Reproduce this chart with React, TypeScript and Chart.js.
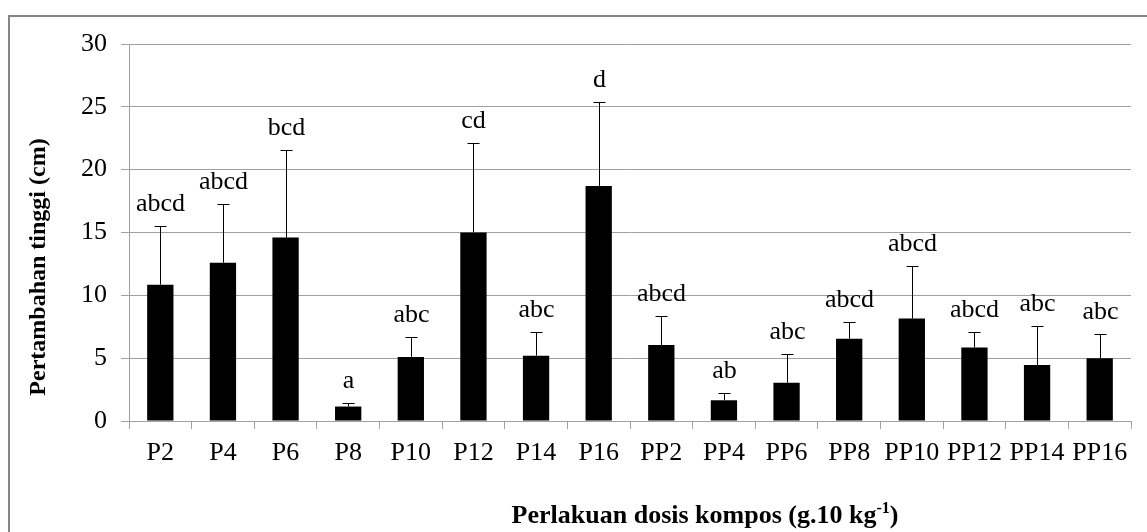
import React, { useEffect, useRef } from "react";
import { Chart, registerables } from "chart.js";

Chart.register(...registerables);

const categories = ["P2", "P4", "P6", "P8", "P10", "P12", "P14", "P16", "PP2", "PP4", "PP6", "PP8", "PP10", "PP12", "PP14", "PP16"];
const means = [10.85, 12.6, 14.6, 1.15, 5.1, 15.0, 5.2, 18.7, 6.05, 1.65, 3.05, 6.55, 8.15, 5.85, 4.45, 5.0];
const stdDev = [4.65, 4.65, 7.0, 0.3, 1.6, 7.15, 1.85, 6.7, 2.3, 0.6, 2.25, 1.3, 4.2, 1.2, 3.1, 1.95];
const letters = ["abcd", "abcd", "bcd", "a", "abc", "cd", "abc", "d", "abcd", "ab", "abc", "abcd", "abcd", "abcd", "abc", "abc"];
const yMin = 0;
const yMax = 30;
const yStep = 5;
const yTitle = "Pertambahan tinggi (cm)";
const xTitleMain = "Perlakuan dosis kompos (g.10 kg";
const xTitleSup = "-1";
const xTitleEnd = ")";

const SERIF = "'Liberation Serif', 'Times New Roman', serif";

const overlayPlugin = {
  id: "overlay",
  afterDatasetsDraw(chart: any) {
    const ctx = chart.ctx;
    const xs = chart.scales.x;
    const ys = chart.scales.y;
    ctx.save();
    ctx.strokeStyle = "#000";
    ctx.lineWidth = 1;
    ctx.fillStyle = "#000";
    ctx.font = `26px ${SERIF}`;
    ctx.textAlign = "center";
    ctx.textBaseline = "alphabetic";
    for (let i = 0; i < means.length; i++) {
      const x = Math.round(xs.getPixelForValue(i)) + 0.5;
      const yTop = ys.getPixelForValue(means[i]);
      const yErr = Math.round(ys.getPixelForValue(means[i] + stdDev[i])) + 0.5;
      ctx.beginPath();
      ctx.moveTo(x, yTop);
      ctx.lineTo(x, yErr);
      ctx.moveTo(x - 6, yErr);
      ctx.lineTo(x + 6, yErr);
      ctx.stroke();
      ctx.fillText(letters[i], x, yErr - 16);
    }
    ctx.restore();
  },
  afterDraw(chart: any) {
    const ctx = chart.ctx;
    ctx.save();
    // outer border
    ctx.strokeStyle = "#868686";
    ctx.lineWidth = 2;
    ctx.strokeRect(9, 16, 1200, 600);
    // y title
    ctx.fillStyle = "#000";
    ctx.font = `bold 24px ${SERIF}`;
    ctx.textAlign = "center";
    ctx.textBaseline = "middle";
    ctx.translate(39, 267);
    ctx.rotate(-Math.PI / 2);
    ctx.fillText(yTitle, 0, 0);
    ctx.setTransform(1, 0, 0, 1, 0, 0);
    // x title
    const mainFont = `bold 26px ${SERIF}`;
    const supFont = `bold 16px ${SERIF}`;
    ctx.font = mainFont;
    const w1 = ctx.measureText(xTitleMain).width;
    const w3 = ctx.measureText(xTitleEnd).width;
    ctx.font = supFont;
    const w2 = ctx.measureText(xTitleSup).width;
    const total = w1 + w2 + w3;
    const cx = 705;
    const baseY = 523;
    let x0 = cx - total / 2;
    ctx.textAlign = "left";
    ctx.textBaseline = "alphabetic";
    ctx.font = mainFont;
    ctx.fillText(xTitleMain, x0, baseY);
    ctx.font = supFont;
    ctx.fillText(xTitleSup, x0 + w1, baseY - 10);
    ctx.font = mainFont;
    ctx.fillText(xTitleEnd, x0 + w1 + w2, baseY);
    ctx.restore();
  },
};

export default function App() {
  const canvasRef = useRef<HTMLCanvasElement | null>(null);

  useEffect(() => {
    if (!canvasRef.current) return;
    const chart = new Chart(canvasRef.current, {
      type: "bar",
      data: {
        labels: categories,
        datasets: [
          {
            data: means,
            backgroundColor: "#000",
            borderColor: "#000",
            borderWidth: 0,
            barPercentage: 0.42,
            categoryPercentage: 1,
          },
        ],
      },
      options: {
        responsive: false,
        animation: false,
        devicePixelRatio: 1,
        layout: { padding: { left: 0, right: 16, top: 44, bottom: 0 } },
        plugins: {
          legend: { display: false },
          tooltip: { enabled: false },
          title: { display: false },
        },
        scales: {
          x: {
            type: "category",
            offset: true,
            afterFit: (s: any) => {
              s.height = 111;
            },
            grid: {
              offset: true,
              drawOnChartArea: false,
              drawTicks: true,
              tickLength: 8,
              color: "#a0a0a0",
            },
            border: { display: true, color: "#a0a0a0" },
            ticks: {
              color: "#000",
              font: { family: SERIF, size: 26 },
              padding: 9,
              maxRotation: 0,
              autoSkip: false,
            },
          },
          y: {
            min: yMin,
            max: yMax,
            afterFit: (s: any) => {
              s.width = 129;
            },
            grid: {
              color: "#a0a0a0",
              tickLength: 8,
              drawTicks: true,
            },
            border: { display: true, color: "#a0a0a0" },
            ticks: {
              stepSize: yStep,
              color: "#000",
              font: { family: SERIF, size: 26 },
              padding: 14,
            },
          },
        },
      },
      plugins: [overlayPlugin],
    });
    return () => chart.destroy();
  }, []);

  return (
    <div style={{ position: "fixed", left: 0, top: 0, width: 1147, height: 532, background: "#fff" }}>
      <canvas ref={canvasRef} width={1147} height={532} style={{ display: "block" }} />
    </div>
  );
}
